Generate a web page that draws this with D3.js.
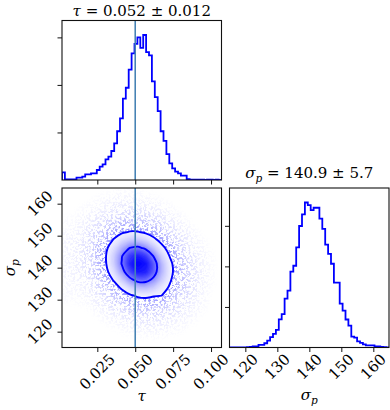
<!DOCTYPE html>
<html><head><meta charset="utf-8">
<script src="https://cdn.jsdelivr.net/npm/d3@7"></script>
<style>
body{margin:0;background:#fff}
svg{display:block}
text{font-family:"DejaVu Serif","Liberation Serif",serif;fill:#000}
</style>
</head><body>
<svg id="c" width="390" height="410"></svg>
<script>
// ---------------- data ----------------
const tauRange = [0.0017, 0.1069];
const sigRange = [115.05, 164.9];
const tauTruth = 0.05;
const tauTicks = [0.025, 0.050, 0.075, 0.100];
const tauTickLabels = ["0.025", "0.050", "0.075", "0.100"];
const sigTicks = [120, 130, 140, 150, 160];
const sigTickLabels = ["120", "130", "140", "150", "160"];
const countTicks = [200, 400, 600];
const tauTitle = ["τ", " = 0.052 ± 0.012"];
const sigTitle = ["σ", "p", " = 140.9 ± 5.7"];

// 55-bin marginal histograms
const tauCounts = [32,3,3,3,3,10,10,14,24,24,28,28,42,56,66,87,98,122,154,205,259,342,388,464,533,573,600,556,610,538,524,415,349,290,205,165,109,70,49,35,28,18,18,4,2,1,1,2,1,0,1,1,0,1,0];
const sigCounts = [0,0,1,1,1,1,2,3,5,5,13,13,21,34,51,67,87,139,165,241,280,374,403,494,599,656,715,702,677,689,689,635,585,507,462,413,320,320,216,182,138,108,54,49,30,23,15,10,10,10,5,5,3,2,1];

// 20x20 joint density (rows: top = high sigma_p, cols: low -> high tau)
const densityGrid = [
[0,0,0,0.1,0.2,0.3,0.4,0.5,0.5,0.5,0.3,0.2,0.1,0,0,0,0,0,0,0],
[0,0,0.1,0.3,0.7,1.2,1.9,2.4,2.5,2.1,1.5,0.9,0.45,0.2,0.1,0,0,0,0,0],
[0.2,0.2,0.6,1.0,2.3,4.5,7.1,9.2,10,9.0,6.7,4.1,2.1,0.9,0.3,0.1,0,0,0,0],
[0.4,0.4,1.2,2.9,6.9,13.5,22,30,34,31,24,15.3,8.1,3.6,1.3,0.4,0.1,0,0,0],
[0.8,0.8,2.6,6.7,16.6,34,57,80,92,88,70,46,25,11.5,4.3,1.3,0.3,0.1,0.05,0],
[1.4,1.5,4.8,13,33,70,122,177,212,210,173,118,66,31,12,3.9,1.0,0.2,0.1,0],
[2.3,2.5,7.2,21,55,120,217,324,402,413,351,248,144,70,28,9.3,2.5,0.6,0.25,0.1],
[3.0,3.2,9.2,27.7,76,170,318,490,629,667,586,427,257,129,53,18.4,5.2,1.2,0.4,0.15],
[3.4,3.6,10,30.5,86,200,387,617,818,897,815,614,382,198,84.5,30,8.8,2.2,0.65,0.2],
[3.3,3.5,9,27.7,81,194,389,641,879,996,936,730,470,252,111,41,12.4,3.1,0.75,0.25],
[2.8,3.0,6.8,20.8,63,156,323,551,781,915,890,717,477,265,120,46,14.4,3.8,0.8,0.25],
[2.0,2.2,4.4,13,41,104,223,393,577,698,701,585,402,230,108,43,13.8,3.7,0.7,0.2],
[1.3,1.4,2.5,6.7,22,57,127,231,351,439,456,393,279,185,81,33,11,3.1,0.5,0.15],
[0.7,0.8,1.2,2.9,9.6,26,60,112,177,228,245,218,205,98,50,21,7.2,2.1,0.35,0.1],
[0.4,0.4,0.5,1.0,3.5,9.9,24,46,74,99,110,101,77,49,25,11,4.0,1.2,0.2,0.05],
[0.2,0.2,0.2,0.3,1.1,3.1,7.6,15,26,35,41,39,30,20,10.7,4.8,1.8,0.6,0.1,0],
[0.1,0.1,0.1,0.1,0.3,0.8,2.0,4.2,7.3,10.4,12.4,12.2,9.9,6.7,3.7,1.7,0.7,0.2,0.05,0],
[0,0,0,0,0.1,0.2,0.4,1.0,1.7,2.5,3.1,3.2,2.7,1.9,1.1,0.5,0.2,0.1,0,0],
[0,0,0,0,0.1,0.1,0.15,0.2,0.35,0.5,0.65,0.7,0.6,0.4,0.25,0.15,0.1,0,0,0],
[0,0,0,0,0,0,0,0,0.1,0.1,0.1,0.1,0.1,0.1,0,0,0,0,0,0]
];
const contourLevels = [205, 630];
const hazeLevels = [0.4, 1, 2, 4, 8, 15, 30, 60, 100, 150];

// ---------------- layout ----------------
const L = 62, S = 159.5, G = 8, T = 20.5;
const fs = 15;
const BLUE = "#0000ff", TRUTH = "#4682b4";
const svg = d3.select("#c");

const xT = d3.scaleLinear(tauRange, [L, L + S]);
const xS = d3.scaleLinear(sigRange, [L + S + G, L + 2 * S + G]);
const yS = d3.scaleLinear(sigRange, [T + 2 * S + G, T + S + G]);
const yCT = d3.scaleLinear([0, 1.1 * d3.max(tauCounts)], [T + S, T]);
const yCS = d3.scaleLinear([0, 1.1 * d3.max(sigCounts)], [T + 2 * S + G, T + S + G]);

const defs = svg.append("defs");
function clip(id, x, y) {
  defs.append("clipPath").attr("id", id).append("rect")
    .attr("x", x).attr("y", y).attr("width", S).attr("height", S);
}
clip("cTL", L, T); clip("cBL", L, T + S + G); clip("cBR", L + S + G, T + S + G);

const f = defs.append("filter").attr("id", "haze")
  .attr("x", 0).attr("y", 0).attr("width", 390).attr("height", 410)
  .attr("filterUnits", "userSpaceOnUse");
f.append("feGaussianBlur").attr("in", "SourceGraphic").attr("stdDeviation", 3).attr("result", "b");
f.append("feTurbulence").attr("type", "fractalNoise").attr("baseFrequency", 0.45)
  .attr("numOctaves", 2).attr("seed", 4).attr("result", "n");
f.append("feColorMatrix").attr("in", "n").attr("type", "matrix")
  .attr("values", "0 0 0 0 0  0 0 0 0 0  0 0 0 0 0  8 0 0 0 -3.8").attr("result", "m");
f.append("feComposite").attr("in", "b").attr("in2", "m").attr("operator", "in");

// ---------------- histograms ----------------
function edges(range, n) {
  return d3.range(n + 1).map(k => range[0] + k * (range[1] - range[0]) / n);
}
function stepPath(counts, range, xs, ys) {
  const e = edges(range, counts.length);
  const pts = [[e[0], 0]];
  counts.forEach((c, k) => pts.push([e[k], c]));
  pts.push([e[counts.length], counts[counts.length - 1]]);
  pts.push([e[counts.length], 0]);
  return d3.line().x(d => xs(d[0])).y(d => ys(d[1])).curve(d3.curveStepAfter)(pts);
}
svg.append("path").attr("clip-path", "url(#cTL)")
  .attr("d", stepPath(tauCounts, tauRange, xT, yCT))
  .attr("fill", "none").attr("stroke", BLUE).attr("stroke-width", 1.8);
svg.append("path").attr("clip-path", "url(#cBR)")
  .attr("d", stepPath(sigCounts, sigRange, xS, yCS))
  .attr("fill", "none").attr("stroke", BLUE).attr("stroke-width", 1.8);

// ---------------- 2D panel ----------------
const nx = densityGrid[0].length, ny = densityGrid.length;
const flat = densityGrid.flat();
const gX = d3.scaleLinear([0, nx], [xT(tauRange[0]), xT(tauRange[1])]);
const gY = d3.scaleLinear([0, ny], [yS(sigRange[1]), yS(sigRange[0])]);
const ringLine = d3.line().curve(d3.curveCatmullRomClosed.alpha(0.5));
function contourPath(geom) {
  return geom.coordinates.map(poly => poly.map(ring => {
    const r = ring.slice(0, -1).map(p => [gX(p[0]), gY(p[1])]);
    return ringLine(r);
  }).join("")).join("");
}
const cont = d3.contours().size([nx, ny]);
const g2 = svg.append("g").attr("clip-path", "url(#cBL)");
const hz = g2.append("g").attr("filter", "url(#haze)");
cont.thresholds(hazeLevels)(flat).forEach(c => {
  const a = Math.min(0.55, 0.034 * Math.sqrt(c.value));
  const v = Math.round(255 * (1 - a));
  hz.append("path").attr("d", contourPath(c)).attr("fill", `rgb(${v},${v},255)`)
    .attr("fill-rule", "evenodd");
});
const vmax = d3.max(flat);
const fillLevels = d3.range(0, 26).map(k => contourLevels[0] + k * (vmax - contourLevels[0]) / 26);
cont.thresholds(fillLevels)(flat).forEach(c => {
  const t = c.value / vmax;
  const v = Math.round(255 * Math.pow(1 - t * t, 1.4));
  g2.append("path").attr("d", contourPath(c)).attr("fill", `rgb(${v},${v},255)`)
    .attr("fill-rule", "evenodd");
});
cont.thresholds(contourLevels)(flat).forEach(c => {
  g2.append("path").attr("d", contourPath(c)).attr("fill", "none")
    .attr("stroke", BLUE).attr("stroke-width", 1.9);
});

// truth lines
[[T, T + S], [T + S + G, T + 2 * S + G]].forEach(([a, b]) => {
  svg.append("line").attr("x1", xT(tauTruth)).attr("x2", xT(tauTruth))
    .attr("y1", a).attr("y2", b).attr("stroke", TRUTH).attr("stroke-width", 1.6);
});

// ---------------- frames & axes ----------------
[[L, T], [L, T + S + G], [L + S + G, T + S + G]].forEach(([x, y]) => {
  svg.append("rect").attr("x", x).attr("y", y).attr("width", S).attr("height", S)
    .attr("fill", "none").attr("stroke", "#111").attr("stroke-width", 1.1);
});
function ticks(gen, tr) {
  const g = svg.append("g").attr("transform", tr).call(gen);
  g.select(".domain").remove();
  g.selectAll("line").attr("stroke", "#111").attr("stroke-width", 1);
  g.selectAll("text").remove();
}
const TL = 4.5;
ticks(d3.axisBottom(xT).tickValues(tauTicks).tickSize(TL), `translate(0,${T + S})`);
ticks(d3.axisLeft(yCT).tickValues(countTicks).tickSize(TL), `translate(${L},0)`);
ticks(d3.axisBottom(xT).tickValues(tauTicks).tickSize(TL), `translate(0,${T + 2 * S + G})`);
ticks(d3.axisLeft(yS).tickValues(sigTicks).tickSize(TL), `translate(${L},0)`);
ticks(d3.axisBottom(xS).tickValues(sigTicks).tickSize(TL), `translate(0,${T + 2 * S + G})`);
ticks(d3.axisLeft(yCS).tickValues(countTicks).tickSize(TL), `translate(${L + S + G},0)`);

const hDig = fs * 0.72;
function xLabels(scale, tv, labels, top) {
  labels.forEach((lab, i) => {
    const t = svg.append("text").attr("font-size", fs).attr("text-anchor", "middle")
      .attr("dominant-baseline", "central").text(lab);
    const w = t.node().getComputedTextLength();
    const bh = (w + hDig) * Math.SQRT1_2;
    t.attr("transform", `translate(${scale(tv[i])},${top + bh / 2}) rotate(-45)`);
  });
}
function yLabels(scale, tv, labels, right) {
  labels.forEach((lab, i) => {
    const t = svg.append("text").attr("font-size", fs).attr("text-anchor", "middle")
      .attr("dominant-baseline", "central").text(lab);
    const w = t.node().getComputedTextLength();
    const bw = (w + hDig) * Math.SQRT1_2;
    t.attr("transform", `translate(${right - bw / 2},${scale(tv[i])}) rotate(-45)`);
  });
}
const bottom = T + 2 * S + G;
xLabels(xT, tauTicks, tauTickLabels, bottom + 5.5);
xLabels(xS, sigTicks, sigTickLabels, bottom + 5.5);
yLabels(yS, sigTicks, sigTickLabels, L - 8);

// axis labels
svg.append("text").attr("x", L + S / 2).attr("y", 401).attr("font-size", fs)
  .attr("text-anchor", "middle").attr("font-style", "italic").text("τ");
const xl = svg.append("text").attr("x", L + S + G + S / 2).attr("y", 400).attr("font-size", fs)
  .attr("text-anchor", "middle");
xl.append("tspan").attr("font-style", "italic").text("σ");
xl.append("tspan").attr("font-style", "italic").attr("font-size", fs * 0.7).attr("dy", 3.5).text("p");
const yl = svg.append("text").attr("transform", `translate(15,${T + S + G + S / 2}) rotate(-90)`)
  .attr("font-size", fs).attr("text-anchor", "middle");
yl.append("tspan").attr("font-style", "italic").text("σ");
yl.append("tspan").attr("font-style", "italic").attr("font-size", fs * 0.7).attr("dy", 3.5).text("p");

// titles
const t1 = svg.append("text").attr("x", L + S / 2).attr("y", 15.5).attr("font-size", fs)
  .attr("text-anchor", "middle").attr("xml:space", "preserve");
t1.append("tspan").attr("font-style", "italic").text(tauTitle[0]);
t1.append("tspan").text(tauTitle[1]);
const t2 = svg.append("text").attr("x", L + S + G + S / 2).attr("y", 178).attr("font-size", fs)
  .attr("text-anchor", "middle").attr("xml:space", "preserve");
t2.append("tspan").attr("font-style", "italic").text(sigTitle[0]);
t2.append("tspan").attr("font-style", "italic").attr("font-size", fs * 0.7).attr("dy", 3.5).text(sigTitle[1]);
t2.append("tspan").attr("dy", -3.5).text(sigTitle[2]);
</script>
</body></html>
